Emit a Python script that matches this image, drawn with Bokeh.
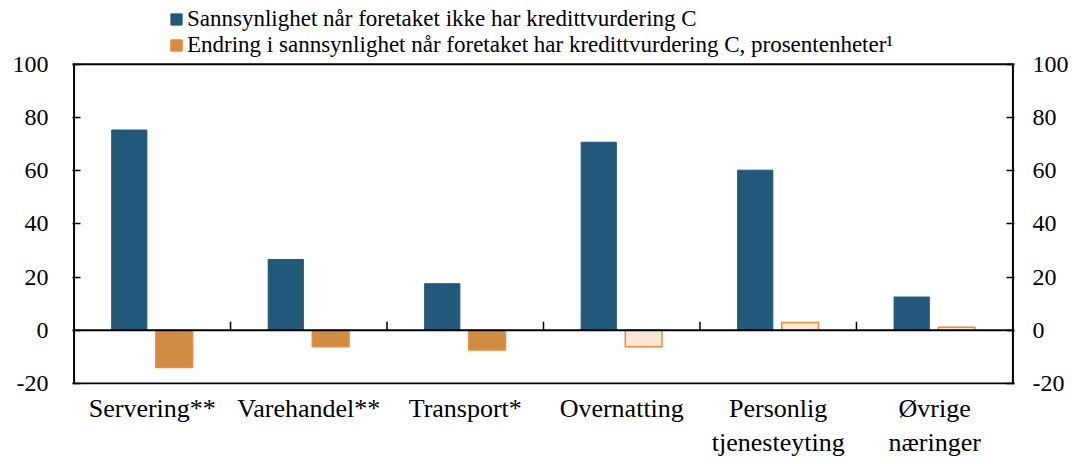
import numpy as np
from bokeh.plotting import figure
from bokeh.models import (LinearAxis, FixedTicker, Span, Legend, LegendItem,
                          ColumnDataSource, Range1d)
from bokeh.embed import file_html
from bokeh.resources import INLINE

categories = ["Servering**", "Varehandel**", "Transport*", "Overnatting",
              "Personlig\ntjenesteyting", "Øvrige\nnæringer"]
prob_no_c = [75.3, 26.6, 17.5, 70.7, 60.2, 12.5]
change_c = [-14.0, -6.2, -7.4, -6.2, 2.9, 1.1]
significant = [True, True, True, False, False, False]
yticks = [-20, 0, 20, 40, 60, 80, 100]
ytick_labels = ["-20", "0", "20", "40", "60", "80", "100"]

series1 = "Sannsynlighet når foretaket ikke har kredittvurdering C"
series2 = "Endring i sannsynlighet når foretaket har kredittvurdering C, prosentenheter¹"

FONT = "Liberation Serif"
BLUE = "#22587a"
ORANGE = "#d08c42"
ORANGE_LINE = "#f08a3c"
LIGHT = "#fbe5d6"

n = len(categories)
xc = np.arange(n) + 0.5
YMIN, YMAX = yticks[0], yticks[-1]

p = figure(width=1075, height=462, output_backend="svg", toolbar_location=None,
           x_range=Range1d(-0.01, n + 0.01), y_range=Range1d(YMIN - 0.4, YMAX + 23.25),
           min_border_left=72, min_border_right=61, min_border_top=2,
           min_border_bottom=78, x_axis_location=None, y_axis_location=None)
p.grid.visible = False
p.outline_line_color = None
p.background_fill_color = "white"
p.border_fill_color = "white"

src1 = ColumnDataSource(dict(x=xc - 0.147, top=prob_no_c))
fills = [ORANGE if s else LIGHT for s in significant]
src2 = ColumnDataSource(dict(x=xc + 0.14, top=change_c, fill=fills))

r1 = p.vbar(x="x", top="top", bottom=0, width=0.225, source=src1,
            fill_color=BLUE, line_color=BLUE)
r2 = p.vbar(x="x", top="top", bottom=0, width=0.235, source=src2,
            fill_color="fill", line_color=ORANGE_LINE, line_width=1.5)

# plot box
for yy in (YMIN, 0, YMAX):
    p.add_layout(Span(location=yy, dimension="width", line_color="black", line_width=2))
p.segment(x0=[0, n], x1=[0, n], y0=[YMIN, YMIN], y1=[YMAX, YMAX],
          line_color="black", line_width=2)
p.segment(x0=list(range(1, n)), x1=list(range(1, n)), y0=[0] * (n - 1),
          y1=[3.2] * (n - 1), line_color="black", line_width=1.5)

def yaxis(standoff):
    ax = LinearAxis(ticker=FixedTicker(ticks=yticks))
    ax.major_label_overrides = {t: l for t, l in zip(yticks, ytick_labels)}
    ax.axis_line_color = None
    ax.major_tick_in = 8
    ax.major_tick_out = 0
    ax.minor_tick_line_color = None
    ax.major_tick_line_color = "black"
    ax.major_tick_line_width = 1.5
    ax.major_label_text_font = FONT
    ax.major_label_text_font_size = "24px"
    ax.major_label_text_color = "black"
    ax.major_label_standoff = standoff
    return ax

p.add_layout(yaxis(24), "left")
p.add_layout(yaxis(18), "right")

xa = LinearAxis(ticker=FixedTicker(ticks=list(xc)))
xa.major_label_overrides = {float(x): c for x, c in zip(xc, categories)}
xa.axis_line_color = None
xa.major_tick_line_color = None
xa.minor_tick_line_color = None
xa.major_tick_in = 0
xa.major_tick_out = 0
xa.minor_tick_in = 0
xa.minor_tick_out = 0
xa.major_label_text_font = FONT
xa.major_label_text_font_size = "26px"
xa.major_label_text_color = "black"
xa.major_label_standoff = 9
p.add_layout(xa, "below")

legend = Legend(items=[LegendItem(label=series1, renderers=[r1]),
                       LegendItem(label=series2, renderers=[r2])],
                orientation="vertical", location=(97, 326))
legend.label_text_font = FONT
legend.label_text_font_size = "23px"
legend.label_text_color = "black"
legend.glyph_width = 14
legend.glyph_height = 14
legend.label_standoff = 4
legend.spacing = 0
legend.padding = 0
legend.margin = 0
legend.label_height = 25
legend.border_line_color = None
legend.background_fill_alpha = 0
p.add_layout(legend)

open("out.html", "w").write(file_html(p, INLINE))
